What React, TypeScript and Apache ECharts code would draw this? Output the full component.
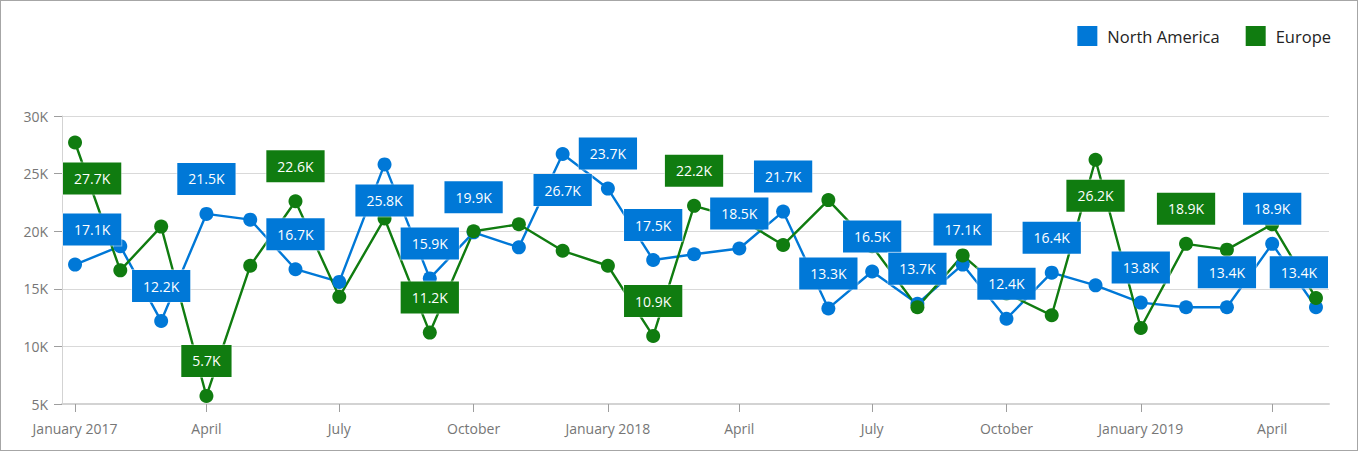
import React, { useEffect, useRef } from "react";
import * as echarts from "echarts";

// ---- data ----
const months = [
  "2017-01", "2017-02", "2017-03", "2017-04", "2017-05", "2017-06",
  "2017-07", "2017-08", "2017-09", "2017-10", "2017-11", "2017-12",
  "2018-01", "2018-02", "2018-03", "2018-04", "2018-05", "2018-06",
  "2018-07", "2018-08", "2018-09", "2018-10", "2018-11", "2018-12",
  "2019-01", "2019-02", "2019-03", "2019-04", "2019-05",
];

const northAmerica = [
  17100, 18700, 12200, 21500, 21000, 16700, 15600, 25800, 15900, 19900, 18600, 26700,
  23700, 17500, 18000, 18500, 21700, 13300, 16500, 13700, 17100, 12400, 16400, 15300,
  13800, 13400, 13400, 18900, 13400,
];

const europe = [
  27700, 16600, 20400, 5700, 17000, 22600, 14300, 21100, 11200, 20000, 20600, 18300,
  17000, 10900, 22200, 21100, 18800, 22700, 18700, 13400, 17900, 14600, 12700, 26200,
  11600, 18900, 18400, 20600, 14200,
];

// months (indices) whose value label is visible
const northAmericaLabelled = [0, 2, 3, 5, 7, 8, 9, 11, 12, 13, 15, 16, 17, 18, 19, 20, 21, 22, 24, 26, 27, 28];
const europeLabelled = [0, 3, 5, 8, 13, 14, 23, 25];

const tickMonths = [
  "2017-01", "2017-04", "2017-07", "2017-10", "2018-01",
  "2018-04", "2018-07", "2018-10", "2019-01", "2019-04",
];
const tickLabels = [
  "January 2017", "April", "July", "October", "January 2018",
  "April", "July", "October", "January 2019", "April",
];

const seriesNames = ["North America", "Europe"];
const seriesColors = ["#0078D7", "#107C10"];

// ---- layout ----
const W = 1358;
const H = 451;
const GRID = { left: 62, right: 29, top: 116, bottom: 47 };
const SYMBOL = 14;
const GAP_TOP = 12;
const GAP_BOTTOM = 11;
const FONT = "'Open Sans', 'Noto Sans', sans-serif";

const toTime = (m: string) => {
  const [y, mo] = m.split("-").map(Number);
  return Date.UTC(y, mo - 1, 1);
};
const fmtK = (v: number) => (v / 1000).toFixed(1) + "K";

function buildSeries(name: string, color: string, values: number[], labelled: number[]) {
  return {
    name,
    type: "line",
    symbol: "circle",
    symbolSize: SYMBOL,
    color,
    lineStyle: { width: 2.4, color },
    itemStyle: { color },
    label: {
      show: false,
      position: "top",
      distance: GAP_TOP,
      formatter: (p: any) => fmtK(p.value[1]),
      color: "#ffffff",
      fontSize: 14,
      fontFamily: FONT,
      lineHeight: 18,
      padding: [7, 11],
      backgroundColor: color,
      borderColor: "rgba(255,255,255,0.45)",
      borderWidth: 1,
    },
    labelLayout: (p: any) => {
      const r = p.labelRect;
      let dx = 0;
      let dy = 0;
      const right = W - GRID.right;
      if (r.x < GRID.left) dx = GRID.left - r.x;
      if (r.x + r.width > right) dx = right - (r.x + r.width);
      if (r.y < GRID.top) dy = r.height + SYMBOL + GAP_TOP + GAP_BOTTOM;
      return { dx, dy };
    },
    emphasis: { disabled: true },
    data: values.map((v, i) => ({
      value: [toTime(months[i]), v],
      label: { show: labelled.includes(i) },
    })),
  };
}

export default function App() {
  const ref = useRef<HTMLDivElement>(null);

  useEffect(() => {
    if (!ref.current) return;
    const chart = echarts.init(ref.current, null, { renderer: "svg" });
    const tickTimes = tickMonths.map(toTime);
    const t0 = toTime(months[0]);
    const t1 = toTime(months[months.length - 1]);
    const pad = (t1 - t0) * 0.0105;

    chart.setOption({
      animation: false,
      backgroundColor: "#ffffff",
      textStyle: { fontFamily: FONT },
      legend: {
        right: 27,
        top: 26,
        padding: 0,
        itemWidth: 20,
        itemHeight: 20,
        itemGap: 26,
        icon: "rect",
        selectedMode: false,
        data: seriesNames.map((n, i) => ({ name: n, itemStyle: { color: seriesColors[i] } })),
        textStyle: { fontSize: 16.5, color: "#232323", fontFamily: FONT, padding: [0, 0, 0, 5] },
      },
      grid: { ...GRID, containLabel: false, outerBoundsMode: "none" },
      xAxis: {
        type: "value",
        min: t0 - pad,
        max: t1 + pad,
        axisLine: { show: true, onZero: false, lineStyle: { color: "#d3d3d3", width: 2 } },
        axisTick: {
          show: true,
          length: 8,
          customValues: tickTimes,
          lineStyle: { color: "#9e9e9e", width: 1 },
        },
        axisLabel: {
          customValues: tickTimes,
          margin: 17,
          color: "#767676",
          fontSize: 14,
          fontFamily: FONT,
          showMinLabel: true,
          showMaxLabel: true,
          formatter: (v: number) => {
            const i = tickTimes.indexOf(v);
            return i >= 0 ? tickLabels[i] : "";
          },
        },
        splitLine: { show: false },
      },
      yAxis: {
        type: "value",
        min: 5000,
        max: 30000,
        interval: 5000,
        axisLine: { show: true, lineStyle: { color: "#d3d3d3", width: 1 } },
        axisTick: { show: true, length: 8, lineStyle: { color: "#9e9e9e" } },
        axisLabel: {
          margin: 14,
          color: "#767676",
          fontSize: 14,
          fontFamily: FONT,
          formatter: (v: number) => v / 1000 + "K",
        },
        splitLine: { show: true, lineStyle: { color: "#d9d9d9", width: 1 } },
      },
      series: [
        buildSeries(seriesNames[0], seriesColors[0], northAmerica, northAmericaLabelled),
        buildSeries(seriesNames[1], seriesColors[1], europe, europeLabelled),
      ],
    });

    return () => chart.dispose();
  }, []);

  return (
    <div style={{ position: "fixed", left: 0, top: 0, width: W, height: H, background: "#fff" }}>
      <div ref={ref} style={{ width: W, height: H }} />
      <div
        style={{
          position: "absolute",
          left: 0,
          top: 0,
          width: W,
          height: H,
          boxSizing: "border-box",
          border: "1px solid #a6a6a6",
          pointerEvents: "none",
        }}
      />
    </div>
  );
}
